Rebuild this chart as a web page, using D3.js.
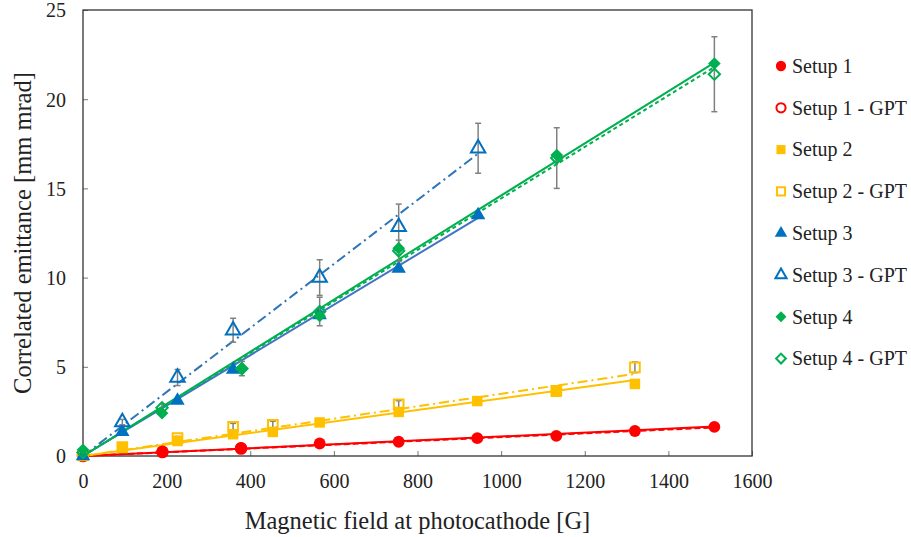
<!DOCTYPE html>
<html><head><meta charset="utf-8">
<script src="https://cdn.jsdelivr.net/npm/d3@7"></script>
<style>body{margin:0;background:#fff}svg{display:block}</style>
</head><body><svg id="c" width="911" height="537"></svg>
<script>
// ---------- data ----------
const xTicks = [0,200,400,600,800,1000,1200,1400,1600];
const yTicks = [0,5,10,15,20,25];
const legendNames = ["Setup 1","Setup 1 - GPT","Setup 2","Setup 2 - GPT","Setup 3","Setup 3 - GPT","Setup 4","Setup 4 - GPT"];

const setup1 = [[0,0.02],[190,0.25],[378,0.45],[566,0.7],[755,0.8],[943,1.0],[1132,1.13],[1320,1.4],[1510,1.63]];
const setup1GPT = [[0,0.0],[190,0.22],[378,0.42]];
const setup2 = [[0,0.0],[94,0.45],[226,0.84],[359,1.22],[454,1.35],[566,1.88],[755,2.47],[943,3.08],[1132,3.6],[1320,4.04]];
const setup2GPT = [[0,0.05],[94,0.5],[226,1.0],[359,1.63],[454,1.75],[755,2.9],[1132,3.65],[1320,4.97]];
const setup2GPTerr = [0,0,0.1,0.2,0.2,0.2,0.2,0.3];
const setup3 = [[0,0.0],[94,1.35],[226,3.1],[359,4.85],[566,7.9],[755,10.5],[945,13.5]];
const setup3GPT = [[94,1.9],[226,4.4],[359,7.05],[566,10.0],[755,12.85],[945,17.25]];
const setup3GPTerr = [0.15,0.45,0.67,1.0,1.27,1.4];
const setup4 = [[0,0.35],[189,2.4],[380,4.87],[566,7.85],[755,11.65],[1133,16.87],[1510,22.0]];
const setup4GPT = [[0,0.2],[189,2.7],[380,4.9],[566,8.1],[755,11.5],[1133,16.7],[1510,21.4]];
const setup4GPTerr = [0,0.2,0.4,0.8,0.6,1.7,2.1];

// trend lines (endpoints)
const fit1 = [[0,0],[1510,1.65]];
const fit1GPT = [[0,0],[1510,1.6]];
const fit2 = [[0,0],[1320,4.26]];
const fit2GPT = [[0,0],[1320,4.6]];
const fit3 = [[0,0],[945,13.35]];
const fit3GPT = [[0,0],[945,16.95]];
const fit4 = [[0,0],[1510,22.05]];
const fit4GPT = [[0,0],[1510,21.8]];

// ---------- drawing ----------
const FONT='Liberation Serif, DejaVu Serif, serif';
const svg = d3.select("#c").style("font-family",FONT);
const L=83,T=10,R=752,B=456;
const x = d3.scaleLinear().domain([0,1600]).range([L,R]);
const y = d3.scaleLinear().domain([0,25]).range([B,T]);

const red="#FF0000", orange="#FFC000", blue="#0070C0", blueLine="#4472C4", green="#00B050", grey="#808080";

// axes
const gx = svg.append("g").attr("transform",`translate(0,${B})`)
  .call(d3.axisBottom(x).tickValues(xTicks).tickSize(-5).tickPadding(18).tickFormat(d3.format("d")));
const gy = svg.append("g").attr("transform",`translate(${L},0)`)
  .call(d3.axisLeft(y).tickValues(yTicks).tickSize(-5).tickPadding(17).tickFormat(d3.format("d")));
[gx,gy].forEach(g=>{g.attr("font-family",null).attr("font-size",null);
  g.select(".domain").remove();g.selectAll("line").attr("stroke","#777");
  g.selectAll("text").attr("fill","#222").style("font-family",FONT).style("font-size","20px");});
gy.selectAll("text").attr("dy","0.34em");
svg.append("rect").attr("x",L).attr("y",T).attr("width",R-L).attr("height",B-T)
  .attr("fill","none").attr("stroke","#333").attr("stroke-width",1.3);

// titles
svg.append("text").attr("x",(L+R)/2).attr("y",529).attr("text-anchor","middle").attr("fill","#222")
  .style("font-family",FONT).style("font-size","24.5px").text("Magnetic field at photocathode [G]");
svg.append("text").attr("transform",`translate(31,${(T+B)/2}) rotate(-90)`).attr("text-anchor","middle").attr("fill","#222")
  .style("font-family",FONT).style("font-size","24.5px").text("Correlated emittance [mm mrad]");

const plot = svg.append("g");
const line = d3.line().x(d=>x(d[0])).y(d=>y(d[1]));
function fit(data,color,dash,w){
  plot.append("path").attr("d",line(data)).attr("fill","none").attr("stroke",color)
    .attr("stroke-width",w||2).attr("stroke-dasharray",dash||null);
}
function errs(data,err){
  data.forEach((d,i)=>{ if(!err[i]) return;
    const cx=x(d[0]), y1=y(d[1]+err[i]), y2=y(d[1]-err[i]);
    plot.append("line").attr("x1",cx).attr("x2",cx).attr("y1",y1).attr("y2",y2).attr("stroke",grey).attr("stroke-width",1.5);
    [y1,y2].forEach(yy=>plot.append("line").attr("x1",cx-3).attr("x2",cx+3).attr("y1",yy).attr("y2",yy).attr("stroke",grey).attr("stroke-width",1.5));
  });
}
const shapes={circle:d3.symbolCircle,square:d3.symbolSquare,triangle:d3.symbolTriangle,diamond:d3.symbolSquare};
const sizes={circle:110,square:110,triangle:90,diamond:80};
function marks(g,data,shape,color,open,scale){
  const rot = shape==="diamond"?" rotate(45)":"";
  g.selectAll(null).data(data).enter().append("path")
    .attr("d",d3.symbol().type(shapes[shape]).size(sizes[shape]*(scale||1)))
    .attr("transform",d=>`translate(${x(d[0])},${y(d[1])})${rot}`)
    .attr("fill",open?"none":color).attr("stroke",color).attr("stroke-width",open?2:0);
}

// trendlines
fit(fit1GPT,red,"6,3");
fit(fit1,red);
fit(fit2,orange);
fit(fit2GPT,orange,"10,4,2,4");
fit(fit3,blueLine);
fit(fit3GPT,"#2E75B6","10,4,2,4");
fit(fit4GPT,green,"4,3");
fit(fit4,green);

// markers
marks(plot,setup1GPT,"circle",red,true,0.8);
marks(plot,setup1,"circle",red,false);
errs(setup2GPT,setup2GPTerr);
marks(plot,setup2,"square",orange,false);
marks(plot,setup2GPT,"square",orange,true,0.85);
marks(plot,setup3,"triangle",blue,false);
errs(setup3GPT,setup3GPTerr);
marks(plot,setup3GPT,"triangle",blue,true);
errs(setup4GPT,setup4GPTerr);
marks(plot,setup4GPT,"diamond",green,true,0.8);
marks(plot,setup4,"diamond",green,false);

// legend
const legSpec=[["circle",red,false],["circle",red,true],["square",orange,false],["square",orange,true],
  ["triangle",blue,false],["triangle",blue,true],["diamond",green,false],["diamond",green,true]];
const lg=svg.append("g");
legendNames.forEach((n,i)=>{
  const yy=66+i*41.8;
  const s=legSpec[i];
  const rot = s[0]==="diamond"?" rotate(45)":"";
  lg.append("path").attr("d",d3.symbol().type(shapes[s[0]]).size(sizes[s[0]]*(s[2]?0.6:0.75)))
    .attr("transform",`translate(781,${yy})${rot}`).attr("fill",s[2]?"none":s[1]).attr("stroke",s[1]).attr("stroke-width",s[2]?2:0);
  lg.append("text").attr("x",792).attr("y",yy).attr("dy","0.34em").attr("fill","#222")
    .style("font-family",FONT).style("font-size","20px").text(n);
});
</script></body></html>
